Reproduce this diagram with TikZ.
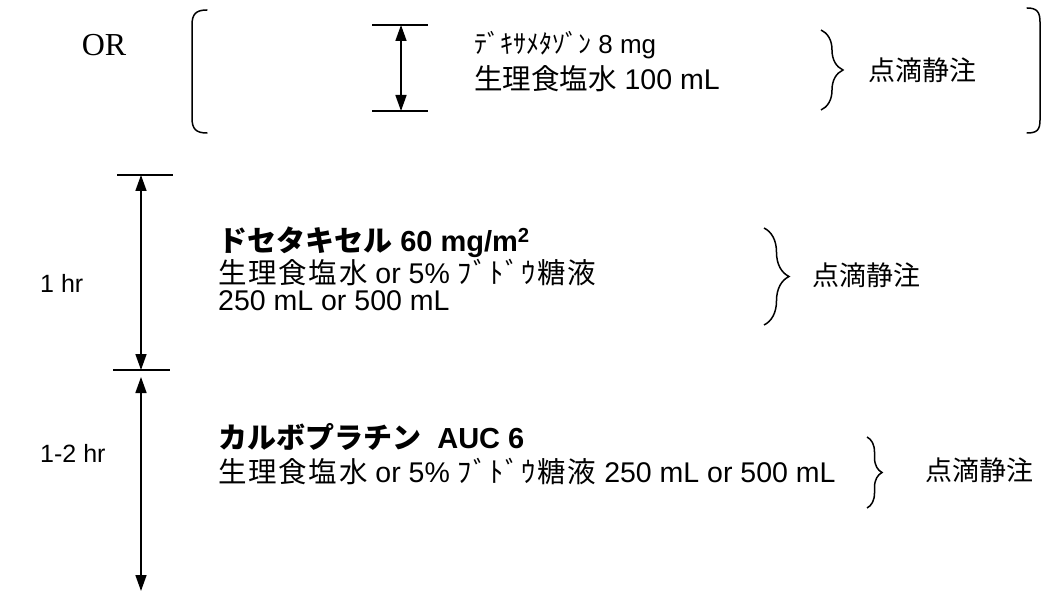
\documentclass[tikz,border=0pt]{standalone}
\usepackage{fontspec}
\setmainfont{Liberation Sans}
\newfontfamily\jp{Noto Sans CJK JP}
\newfontfamily\jpw[LetterSpace=6]{Noto Sans CJK JP}
\newfontfamily\serifOR{Liberation Serif}
\usetikzlibrary{arrows.meta,decorations.pathreplacing}
\tikzset{
  body/.style={anchor=west, inner sep=0pt, font=\fontsize{28.5}{32}\selectfont},
  bodyb/.style={anchor=west, inner sep=0pt, font=\bfseries\fontsize{29}{32}\selectfont},
  lbl/.style={anchor=west, inner sep=0pt, font=\fontsize{25}{28}\selectfont},
  infuse/.style={anchor=west, inner sep=0pt, font=\jp\fontsize{27}{30}\selectfont},
  tick/.style={line width=1.6pt},
  dimline/.style={line width=1.6pt, {Triangle[width=11pt,length=16pt]}-{Triangle[width=11pt,length=16pt]}},
  bracket/.style={line width=1.5pt, line cap=round},
  curly/.style={line width=1.5pt, decorate, decoration={brace, amplitude=#1, aspect=0.5}},
}
\begin{document}
\begin{tikzpicture}[x=1pt,y=-1pt]
\useasboundingbox (0,0) rectangle (1041,596);

% ---- top (OR) block ----
\node[inner sep=0pt, font=\serifOR\fontsize{32}{34}\selectfont] (or) at (104,45) {OR};
\draw[bracket] (207,10) .. controls (196,10) and (192,14) .. (192,25) -- (192,118) .. controls (192,129) and (196,133) .. (207,133);
\draw[bracket] (1027,8) .. controls (1037,8) and (1040,12) .. (1040,22) -- (1040,120) .. controls (1040,130) and (1037,133) .. (1027,133);

\coordinate (a1) at (401,25);
\coordinate (a2) at (401,111);
\coordinate (a1l) at (372,25); \coordinate (a1r) at (428,25);
\coordinate (a2l) at (372,111); \coordinate (a2r) at (428,111);
\draw[tick] (a1l) -- (a1r);
\draw[tick] (a2l) -- (a2r);
\draw[dimline] (a1) -- (a2);

\node[body, font=\fontsize{26}{30}\selectfont] (dex) at (474,45) {{\jp ﾃﾞｷｻﾒﾀｿﾞﾝ} 8 mg};
\node[body] (sal1) at (474,79) {{\jp 生理食塩水} 100 mL};
\coordinate (b1t) at (821,30);
\coordinate (b1b) at (821,110);
\draw[curly=22pt] (b1t) -- (b1b);
\node[infuse] (inf1) at (868,70) {点滴静注};

% ---- docetaxel block ----
\node[lbl] (hr1) at (40,283) {1 hr};
\coordinate (m1) at (141,175);
\coordinate (m2) at (141,370);
\coordinate (m1l) at (117,175); \coordinate (m1r) at (173,175);
\coordinate (m2l) at (113,370); \coordinate (m2r) at (170,370);
\draw[tick] (m1l) -- (m1r);
\draw[tick] (m2l) -- (m2r);
\draw[dimline] (m1) -- (m2);

\node[bodyb] (doc) at (218,242) {{\jp\bfseries ドセタキセル} 60 mg/m\textsuperscript{2}};
\node[body] (doc2) at (218,272) {{\jpw 生理食塩水} or 5\% {\jpw ﾌﾞﾄﾞｳ糖液}};
\node[body] (doc3) at (218,301) {250 mL or 500 mL};
\coordinate (b2t) at (764,228);
\coordinate (b2b) at (764,325);
\draw[curly=25pt] (b2t) -- (b2b);
\node[infuse] (inf2) at (812,275) {点滴静注};

% ---- carboplatin block ----
\node[lbl] (hr2) at (40,453) {1-2 hr};
\coordinate (n1) at (141,377);
\coordinate (n2) at (141,591);
\draw[dimline] (n1) -- (n2);

\node[bodyb] (car) at (218,437) {{\jp\bfseries カルボプラチン}\ \ AUC 6};
\node[body] (car2) at (218,471) {{\jpw 生理食塩水} or 5\% {\jpw ﾌﾞﾄﾞｳ糖液} 250 mL or 500 mL};
\coordinate (b3t) at (867,437);
\coordinate (b3b) at (867,508);
\draw[curly=15pt] (b3t) -- (b3b);
\node[infuse] (inf3) at (925,470) {点滴静注};
\end{tikzpicture}
\end{document}
